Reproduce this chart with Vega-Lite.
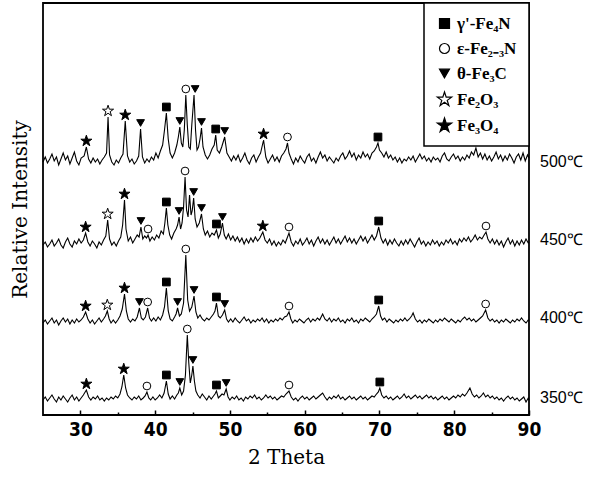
{
"$schema": "https://vega.github.io/schema/vega-lite/v6.json",
"width": 486, "height": 412,
"autosize": {"type": "none"},
"padding": {"left": 43, "top": 3, "right": 72, "bottom": 62},
"background": "white",
"config": {"view": {"stroke": "black", "strokeWidth": 1.8}, "legend": {"strokeWidth": 1.5}},
"datasets": {
"a": [{"x":25.0,"y":253},{"x":25.3,"y":258},{"x":25.6,"y":252},{"x":25.9,"y":256},{"x":26.2,"y":261},{"x":26.5,"y":254},{"x":26.8,"y":258},{"x":27.1,"y":250},{"x":27.4,"y":256},{"x":27.7,"y":262},{"x":28.0,"y":255},{"x":28.3,"y":259},{"x":28.6,"y":251},{"x":28.9,"y":257},{"x":29.2,"y":263},{"x":29.5,"y":254},{"x":29.8,"y":250},{"x":30.1,"y":257},{"x":30.5,"y":259},{"x":30.8,"y":268},{"x":31.1,"y":256},{"x":31.4,"y":252},{"x":31.7,"y":257},{"x":32.0,"y":253},{"x":32.3,"y":256},{"x":32.6,"y":251},{"x":32.9,"y":255},{"x":33.2,"y":258},{"x":33.5,"y":262},{"x":33.7,"y":298},{"x":33.9,"y":260},{"x":34.2,"y":253},{"x":34.5,"y":250},{"x":34.8,"y":255},{"x":35.1,"y":252},{"x":35.4,"y":257},{"x":35.7,"y":261},{"x":36.0,"y":294},{"x":36.3,"y":259},{"x":36.6,"y":253},{"x":36.9,"y":256},{"x":37.2,"y":251},{"x":37.5,"y":254},{"x":37.8,"y":259},{"x":38.05,"y":286},{"x":38.3,"y":258},{"x":38.6,"y":252},{"x":38.9,"y":256},{"x":39.2,"y":253},{"x":39.5,"y":258},{"x":39.8,"y":255},{"x":40.1,"y":262},{"x":40.4,"y":257},{"x":40.7,"y":264},{"x":41.0,"y":270},{"x":41.25,"y":285},{"x":41.5,"y":302},{"x":41.75,"y":276},{"x":42.0,"y":262},{"x":42.3,"y":257},{"x":42.6,"y":262},{"x":42.9,"y":270},{"x":43.1,"y":278},{"x":43.3,"y":288},{"x":43.5,"y":272},{"x":43.7,"y":268},{"x":43.9,"y":285},{"x":44.1,"y":320},{"x":44.3,"y":290},{"x":44.5,"y":268},{"x":44.7,"y":266},{"x":44.9,"y":290},{"x":45.2,"y":320},{"x":45.4,"y":285},{"x":45.6,"y":265},{"x":45.8,"y":268},{"x":46.0,"y":276},{"x":46.2,"y":287},{"x":46.4,"y":268},{"x":46.7,"y":260},{"x":47.0,"y":256},{"x":47.3,"y":260},{"x":47.6,"y":266},{"x":47.9,"y":270},{"x":48.1,"y":280},{"x":48.3,"y":265},{"x":48.6,"y":262},{"x":48.9,"y":268},{"x":49.3,"y":278},{"x":49.6,"y":262},{"x":49.9,"y":258},{"x":50.2,"y":254},{"x":50.5,"y":259},{"x":50.8,"y":255},{"x":51.1,"y":260},{"x":51.4,"y":253},{"x":51.7,"y":257},{"x":52.0,"y":262},{"x":52.3,"y":255},{"x":52.6,"y":251},{"x":52.9,"y":257},{"x":53.2,"y":260},{"x":53.5,"y":253},{"x":53.8,"y":258},{"x":54.1,"y":262},{"x":54.5,"y":275},{"x":54.8,"y":258},{"x":55.1,"y":252},{"x":55.4,"y":256},{"x":55.7,"y":260},{"x":56.0,"y":254},{"x":56.3,"y":258},{"x":56.6,"y":253},{"x":56.9,"y":259},{"x":57.2,"y":262},{"x":57.5,"y":266},{"x":57.7,"y":272},{"x":57.9,"y":262},{"x":58.2,"y":256},{"x":58.5,"y":251},{"x":58.8,"y":257},{"x":59.1,"y":253},{"x":59.4,"y":259},{"x":59.7,"y":255},{"x":60.0,"y":252},{"x":60.3,"y":258},{"x":60.6,"y":261},{"x":60.9,"y":254},{"x":61.2,"y":257},{"x":61.5,"y":252},{"x":61.8,"y":258},{"x":62.1,"y":263},{"x":62.4,"y":257},{"x":62.7,"y":260},{"x":63.0,"y":254},{"x":63.3,"y":258},{"x":63.6,"y":255},{"x":63.9,"y":252},{"x":64.2,"y":257},{"x":64.5,"y":254},{"x":64.8,"y":259},{"x":65.1,"y":262},{"x":65.4,"y":256},{"x":65.7,"y":259},{"x":66.0,"y":264},{"x":66.3,"y":258},{"x":66.6,"y":262},{"x":66.9,"y":255},{"x":67.2,"y":260},{"x":67.5,"y":257},{"x":67.8,"y":263},{"x":68.1,"y":258},{"x":68.4,"y":261},{"x":68.7,"y":256},{"x":69.0,"y":262},{"x":69.3,"y":264},{"x":69.6,"y":268},{"x":69.8,"y":272},{"x":70.0,"y":265},{"x":70.3,"y":262},{"x":70.6,"y":258},{"x":70.9,"y":263},{"x":71.2,"y":257},{"x":71.5,"y":260},{"x":71.8,"y":255},{"x":72.1,"y":258},{"x":72.4,"y":253},{"x":72.7,"y":257},{"x":73.0,"y":252},{"x":73.3,"y":256},{"x":73.6,"y":254},{"x":73.9,"y":258},{"x":74.2,"y":255},{"x":74.5,"y":259},{"x":74.8,"y":253},{"x":75.1,"y":257},{"x":75.4,"y":261},{"x":75.7,"y":256},{"x":76.0,"y":259},{"x":76.3,"y":254},{"x":76.6,"y":257},{"x":76.9,"y":253},{"x":77.2,"y":258},{"x":77.5,"y":255},{"x":77.8,"y":257},{"x":78.1,"y":253},{"x":78.4,"y":259},{"x":78.7,"y":262},{"x":79.0,"y":256},{"x":79.3,"y":254},{"x":79.6,"y":258},{"x":79.9,"y":261},{"x":80.2,"y":256},{"x":80.5,"y":259},{"x":80.8,"y":254},{"x":81.1,"y":258},{"x":81.4,"y":255},{"x":81.7,"y":260},{"x":82.0,"y":257},{"x":82.3,"y":263},{"x":82.6,"y":260},{"x":82.9,"y":267},{"x":83.2,"y":258},{"x":83.5,"y":262},{"x":83.8,"y":256},{"x":84.1,"y":261},{"x":84.4,"y":255},{"x":84.7,"y":259},{"x":85.0,"y":254},{"x":85.3,"y":258},{"x":85.6,"y":263},{"x":85.9,"y":256},{"x":86.2,"y":260},{"x":86.5,"y":254},{"x":86.8,"y":259},{"x":87.1,"y":255},{"x":87.4,"y":261},{"x":87.7,"y":257},{"x":88.0,"y":252},{"x":88.3,"y":258},{"x":88.6,"y":261},{"x":88.9,"y":255},{"x":89.2,"y":262},{"x":89.5,"y":254},{"x":89.8,"y":260},{"x":90.0,"y":257}],
"b": [{"x":25.0,"y":170},{"x":25.3,"y":173},{"x":25.6,"y":168},{"x":25.9,"y":171},{"x":26.2,"y":175},{"x":26.5,"y":169},{"x":26.8,"y":172},{"x":27.1,"y":176},{"x":27.4,"y":170},{"x":27.7,"y":167},{"x":28.0,"y":173},{"x":28.3,"y":177},{"x":28.6,"y":171},{"x":28.9,"y":168},{"x":29.2,"y":174},{"x":29.5,"y":171},{"x":29.8,"y":176},{"x":30.1,"y":172},{"x":30.4,"y":175},{"x":30.7,"y":182},{"x":31.0,"y":173},{"x":31.3,"y":169},{"x":31.6,"y":174},{"x":31.9,"y":171},{"x":32.2,"y":167},{"x":32.5,"y":173},{"x":32.8,"y":170},{"x":33.1,"y":175},{"x":33.4,"y":179},{"x":33.65,"y":195},{"x":33.9,"y":176},{"x":34.2,"y":170},{"x":34.5,"y":173},{"x":34.8,"y":169},{"x":35.1,"y":174},{"x":35.4,"y":178},{"x":35.65,"y":190},{"x":35.9,"y":215},{"x":36.1,"y":186},{"x":36.4,"y":174},{"x":36.7,"y":178},{"x":37.0,"y":172},{"x":37.3,"y":176},{"x":37.6,"y":180},{"x":37.85,"y":178},{"x":38.1,"y":188},{"x":38.35,"y":176},{"x":38.6,"y":179},{"x":38.85,"y":177},{"x":39.05,"y":180},{"x":39.3,"y":174},{"x":39.6,"y":178},{"x":39.9,"y":175},{"x":40.2,"y":180},{"x":40.5,"y":177},{"x":40.8,"y":184},{"x":41.1,"y":181},{"x":41.3,"y":192},{"x":41.5,"y":207},{"x":41.7,"y":190},{"x":41.95,"y":180},{"x":42.2,"y":176},{"x":42.5,"y":182},{"x":42.8,"y":186},{"x":43.0,"y":190},{"x":43.2,"y":198},{"x":43.4,"y":186},{"x":43.6,"y":192},{"x":43.8,"y":208},{"x":44.0,"y":238},{"x":44.2,"y":205},{"x":44.4,"y":198},{"x":44.6,"y":220},{"x":44.8,"y":200},{"x":44.95,"y":204},{"x":45.15,"y":217},{"x":45.35,"y":196},{"x":45.6,"y":188},{"x":45.9,"y":192},{"x":46.2,"y":201},{"x":46.45,"y":186},{"x":46.7,"y":180},{"x":47.0,"y":184},{"x":47.3,"y":178},{"x":47.6,"y":182},{"x":47.9,"y":180},{"x":48.2,"y":185},{"x":48.45,"y":177},{"x":48.7,"y":181},{"x":49.0,"y":192},{"x":49.25,"y":180},{"x":49.5,"y":176},{"x":49.8,"y":181},{"x":50.1,"y":175},{"x":50.4,"y":179},{"x":50.7,"y":174},{"x":51.0,"y":178},{"x":51.3,"y":173},{"x":51.6,"y":177},{"x":51.9,"y":171},{"x":52.2,"y":176},{"x":52.5,"y":172},{"x":52.8,"y":177},{"x":53.1,"y":173},{"x":53.4,"y":178},{"x":53.7,"y":174},{"x":54.0,"y":177},{"x":54.4,"y":183},{"x":54.7,"y":175},{"x":55.0,"y":172},{"x":55.3,"y":176},{"x":55.6,"y":170},{"x":55.9,"y":174},{"x":56.2,"y":169},{"x":56.5,"y":173},{"x":56.8,"y":170},{"x":57.1,"y":175},{"x":57.4,"y":172},{"x":57.9,"y":182},{"x":58.2,"y":173},{"x":58.5,"y":169},{"x":58.8,"y":174},{"x":59.1,"y":171},{"x":59.4,"y":176},{"x":59.7,"y":170},{"x":60.0,"y":173},{"x":60.3,"y":177},{"x":60.6,"y":171},{"x":60.9,"y":175},{"x":61.2,"y":169},{"x":61.5,"y":174},{"x":61.8,"y":178},{"x":62.1,"y":172},{"x":62.4,"y":176},{"x":62.7,"y":171},{"x":63.0,"y":175},{"x":63.3,"y":170},{"x":63.6,"y":174},{"x":63.9,"y":178},{"x":64.2,"y":172},{"x":64.5,"y":176},{"x":64.8,"y":171},{"x":65.1,"y":175},{"x":65.4,"y":179},{"x":65.7,"y":173},{"x":66.0,"y":177},{"x":66.3,"y":172},{"x":66.6,"y":176},{"x":66.9,"y":171},{"x":67.2,"y":175},{"x":67.5,"y":179},{"x":67.8,"y":174},{"x":68.1,"y":178},{"x":68.4,"y":172},{"x":68.7,"y":176},{"x":69.0,"y":180},{"x":69.3,"y":175},{"x":69.6,"y":179},{"x":69.9,"y":188},{"x":70.2,"y":177},{"x":70.5,"y":172},{"x":70.8,"y":176},{"x":71.1,"y":170},{"x":71.4,"y":175},{"x":71.7,"y":171},{"x":72.0,"y":176},{"x":72.3,"y":172},{"x":72.6,"y":169},{"x":72.9,"y":174},{"x":73.2,"y":170},{"x":73.5,"y":175},{"x":73.8,"y":171},{"x":74.1,"y":176},{"x":74.4,"y":172},{"x":74.7,"y":168},{"x":75.0,"y":173},{"x":75.3,"y":177},{"x":75.6,"y":171},{"x":75.9,"y":174},{"x":76.2,"y":169},{"x":76.5,"y":173},{"x":76.8,"y":170},{"x":77.1,"y":175},{"x":77.4,"y":171},{"x":77.7,"y":174},{"x":78.0,"y":169},{"x":78.3,"y":173},{"x":78.6,"y":170},{"x":78.9,"y":175},{"x":79.2,"y":172},{"x":79.5,"y":176},{"x":79.8,"y":171},{"x":80.1,"y":174},{"x":80.4,"y":170},{"x":80.7,"y":176},{"x":81.0,"y":173},{"x":81.3,"y":177},{"x":81.6,"y":174},{"x":81.9,"y":178},{"x":82.2,"y":173},{"x":82.5,"y":176},{"x":82.8,"y":180},{"x":83.1,"y":175},{"x":83.4,"y":178},{"x":83.7,"y":176},{"x":84.0,"y":180},{"x":84.25,"y":183},{"x":84.5,"y":176},{"x":84.8,"y":172},{"x":85.1,"y":176},{"x":85.4,"y":171},{"x":85.7,"y":175},{"x":86.0,"y":170},{"x":86.3,"y":174},{"x":86.6,"y":168},{"x":86.9,"y":173},{"x":87.2,"y":177},{"x":87.5,"y":171},{"x":87.8,"y":175},{"x":88.1,"y":169},{"x":88.4,"y":174},{"x":88.7,"y":170},{"x":89.0,"y":175},{"x":89.3,"y":171},{"x":89.6,"y":176},{"x":89.9,"y":172},{"x":90.0,"y":173}],
"c": [{"x":25.0,"y":92},{"x":25.3,"y":95},{"x":25.6,"y":91},{"x":25.9,"y":94},{"x":26.2,"y":97},{"x":26.5,"y":92},{"x":26.8,"y":95},{"x":27.1,"y":90},{"x":27.4,"y":94},{"x":27.7,"y":97},{"x":28.0,"y":93},{"x":28.3,"y":96},{"x":28.6,"y":91},{"x":28.9,"y":95},{"x":29.2,"y":92},{"x":29.5,"y":96},{"x":29.8,"y":93},{"x":30.1,"y":95},{"x":30.4,"y":98},{"x":30.7,"y":103},{"x":31.0,"y":96},{"x":31.3,"y":92},{"x":31.6,"y":95},{"x":31.9,"y":91},{"x":32.2,"y":94},{"x":32.5,"y":97},{"x":32.8,"y":93},{"x":33.1,"y":96},{"x":33.35,"y":99},{"x":33.6,"y":104},{"x":33.85,"y":96},{"x":34.1,"y":92},{"x":34.4,"y":95},{"x":34.7,"y":92},{"x":35.0,"y":95},{"x":35.3,"y":99},{"x":35.6,"y":106},{"x":35.9,"y":121},{"x":36.15,"y":104},{"x":36.4,"y":96},{"x":36.7,"y":93},{"x":37.0,"y":96},{"x":37.3,"y":94},{"x":37.6,"y":98},{"x":37.9,"y":107},{"x":38.15,"y":97},{"x":38.4,"y":95},{"x":38.7,"y":98},{"x":39.0,"y":107},{"x":39.25,"y":97},{"x":39.5,"y":94},{"x":39.8,"y":97},{"x":40.1,"y":94},{"x":40.4,"y":98},{"x":40.7,"y":95},{"x":41.0,"y":100},{"x":41.25,"y":108},{"x":41.5,"y":127},{"x":41.75,"y":104},{"x":42.0,"y":96},{"x":42.3,"y":94},{"x":42.6,"y":98},{"x":42.8,"y":101},{"x":43.0,"y":107},{"x":43.25,"y":99},{"x":43.5,"y":101},{"x":43.8,"y":112},{"x":44.1,"y":160},{"x":44.35,"y":115},{"x":44.6,"y":104},{"x":44.9,"y":108},{"x":45.2,"y":119},{"x":45.45,"y":103},{"x":45.7,"y":97},{"x":46.0,"y":100},{"x":46.3,"y":96},{"x":46.6,"y":94},{"x":46.9,"y":97},{"x":47.2,"y":95},{"x":47.5,"y":98},{"x":47.8,"y":101},{"x":48.0,"y":104},{"x":48.2,"y":112},{"x":48.45,"y":99},{"x":48.7,"y":97},{"x":49.0,"y":100},{"x":49.3,"y":105},{"x":49.55,"y":96},{"x":49.8,"y":93},{"x":50.1,"y":96},{"x":50.4,"y":93},{"x":50.7,"y":97},{"x":51.0,"y":94},{"x":51.3,"y":92},{"x":51.6,"y":95},{"x":51.9,"y":98},{"x":52.2,"y":94},{"x":52.5,"y":96},{"x":52.8,"y":92},{"x":53.1,"y":95},{"x":53.4,"y":93},{"x":53.7,"y":96},{"x":54.0,"y":94},{"x":54.3,"y":97},{"x":54.6,"y":93},{"x":54.9,"y":96},{"x":55.2,"y":92},{"x":55.5,"y":95},{"x":55.8,"y":93},{"x":56.1,"y":96},{"x":56.4,"y":94},{"x":56.7,"y":97},{"x":57.0,"y":95},{"x":57.3,"y":98},{"x":57.6,"y":99},{"x":57.9,"y":103},{"x":58.15,"y":96},{"x":58.4,"y":92},{"x":58.7,"y":95},{"x":59.0,"y":93},{"x":59.3,"y":96},{"x":59.6,"y":94},{"x":59.9,"y":92},{"x":60.2,"y":95},{"x":60.5,"y":97},{"x":60.8,"y":93},{"x":61.1,"y":96},{"x":61.4,"y":94},{"x":61.7,"y":97},{"x":62.0,"y":95},{"x":62.4,"y":101},{"x":62.7,"y":96},{"x":63.0,"y":94},{"x":63.3,"y":97},{"x":63.6,"y":93},{"x":63.9,"y":96},{"x":64.2,"y":94},{"x":64.5,"y":97},{"x":64.8,"y":93},{"x":65.1,"y":95},{"x":65.4,"y":92},{"x":65.7,"y":96},{"x":66.0,"y":94},{"x":66.3,"y":97},{"x":66.6,"y":93},{"x":66.9,"y":95},{"x":67.2,"y":92},{"x":67.5,"y":96},{"x":67.8,"y":94},{"x":68.1,"y":97},{"x":68.4,"y":95},{"x":68.7,"y":93},{"x":69.0,"y":96},{"x":69.3,"y":98},{"x":69.6,"y":101},{"x":69.9,"y":109},{"x":70.15,"y":99},{"x":70.4,"y":95},{"x":70.7,"y":97},{"x":71.0,"y":93},{"x":71.3,"y":96},{"x":71.6,"y":94},{"x":71.9,"y":92},{"x":72.2,"y":95},{"x":72.5,"y":93},{"x":72.8,"y":96},{"x":73.1,"y":94},{"x":73.4,"y":97},{"x":73.7,"y":94},{"x":74.0,"y":96},{"x":74.3,"y":99},{"x":74.5,"y":102},{"x":74.8,"y":96},{"x":75.1,"y":93},{"x":75.4,"y":95},{"x":75.7,"y":92},{"x":76.0,"y":95},{"x":76.3,"y":93},{"x":76.6,"y":96},{"x":76.9,"y":94},{"x":77.2,"y":92},{"x":77.5,"y":95},{"x":77.8,"y":93},{"x":78.1,"y":96},{"x":78.4,"y":94},{"x":78.7,"y":97},{"x":79.0,"y":95},{"x":79.3,"y":93},{"x":79.6,"y":96},{"x":79.9,"y":94},{"x":80.2,"y":92},{"x":80.5,"y":95},{"x":80.8,"y":93},{"x":81.1,"y":96},{"x":81.4,"y":98},{"x":81.7,"y":95},{"x":82.0,"y":97},{"x":82.3,"y":94},{"x":82.6,"y":96},{"x":82.9,"y":93},{"x":83.2,"y":95},{"x":83.5,"y":97},{"x":83.8,"y":99},{"x":84.2,"y":105},{"x":84.5,"y":97},{"x":84.8,"y":94},{"x":85.1,"y":96},{"x":85.4,"y":93},{"x":85.7,"y":95},{"x":86.0,"y":92},{"x":86.3,"y":95},{"x":86.6,"y":93},{"x":86.9,"y":96},{"x":87.2,"y":94},{"x":87.5,"y":92},{"x":87.8,"y":95},{"x":88.1,"y":93},{"x":88.4,"y":96},{"x":88.7,"y":94},{"x":89.0,"y":97},{"x":89.3,"y":94},{"x":89.6,"y":92},{"x":89.9,"y":95},{"x":90.0,"y":94}],
"d": [{"x":25.0,"y":15},{"x":25.3,"y":18},{"x":25.6,"y":14},{"x":25.9,"y":17},{"x":26.2,"y":20},{"x":26.5,"y":16},{"x":26.8,"y":13},{"x":27.1,"y":18},{"x":27.4,"y":15},{"x":27.7,"y":19},{"x":28.0,"y":16},{"x":28.3,"y":13},{"x":28.6,"y":17},{"x":28.9,"y":20},{"x":29.2,"y":15},{"x":29.5,"y":18},{"x":29.8,"y":14},{"x":30.1,"y":17},{"x":30.4,"y":20},{"x":30.8,"y":25},{"x":31.1,"y":18},{"x":31.4,"y":15},{"x":31.7,"y":18},{"x":32.0,"y":16},{"x":32.3,"y":19},{"x":32.6,"y":15},{"x":32.9,"y":17},{"x":33.2,"y":14},{"x":33.5,"y":17},{"x":33.8,"y":15},{"x":34.1,"y":18},{"x":34.4,"y":16},{"x":34.7,"y":19},{"x":35.0,"y":17},{"x":35.3,"y":21},{"x":35.55,"y":28},{"x":35.8,"y":40},{"x":36.05,"y":27},{"x":36.3,"y":20},{"x":36.6,"y":17},{"x":36.9,"y":15},{"x":37.2,"y":18},{"x":37.5,"y":16},{"x":37.8,"y":19},{"x":38.1,"y":15},{"x":38.4,"y":17},{"x":38.65,"y":19},{"x":38.9,"y":23},{"x":39.15,"y":17},{"x":39.4,"y":15},{"x":39.7,"y":18},{"x":40.0,"y":15},{"x":40.3,"y":17},{"x":40.6,"y":20},{"x":40.9,"y":17},{"x":41.2,"y":22},{"x":41.5,"y":34},{"x":41.75,"y":21},{"x":42.0,"y":16},{"x":42.3,"y":19},{"x":42.6,"y":16},{"x":42.9,"y":20},{"x":43.1,"y":22},{"x":43.3,"y":27},{"x":43.55,"y":20},{"x":43.8,"y":24},{"x":44.05,"y":40},{"x":44.3,"y":80},{"x":44.5,"y":52},{"x":44.7,"y":32},{"x":44.9,"y":40},{"x":45.05,"y":49},{"x":45.25,"y":34},{"x":45.45,"y":24},{"x":45.7,"y":20},{"x":46.0,"y":17},{"x":46.3,"y":21},{"x":46.6,"y":18},{"x":46.9,"y":15},{"x":47.2,"y":19},{"x":47.5,"y":16},{"x":47.8,"y":19},{"x":48.0,"y":21},{"x":48.2,"y":24},{"x":48.45,"y":17},{"x":48.7,"y":19},{"x":48.95,"y":21},{"x":49.2,"y":20},{"x":49.5,"y":26},{"x":49.75,"y":18},{"x":50.0,"y":15},{"x":50.3,"y":18},{"x":50.6,"y":16},{"x":50.9,"y":19},{"x":51.2,"y":15},{"x":51.5,"y":17},{"x":51.8,"y":14},{"x":52.1,"y":18},{"x":52.4,"y":16},{"x":52.7,"y":19},{"x":53.0,"y":17},{"x":53.3,"y":20},{"x":53.6,"y":16},{"x":53.9,"y":18},{"x":54.2,"y":15},{"x":54.5,"y":17},{"x":54.8,"y":20},{"x":55.1,"y":17},{"x":55.4,"y":19},{"x":55.7,"y":16},{"x":56.0,"y":18},{"x":56.3,"y":15},{"x":56.6,"y":17},{"x":56.9,"y":19},{"x":57.2,"y":18},{"x":57.5,"y":21},{"x":57.9,"y":24},{"x":58.2,"y":18},{"x":58.5,"y":15},{"x":58.8,"y":17},{"x":59.1,"y":14},{"x":59.4,"y":17},{"x":59.7,"y":19},{"x":60.0,"y":16},{"x":60.3,"y":18},{"x":60.6,"y":15},{"x":60.9,"y":17},{"x":61.2,"y":19},{"x":61.5,"y":16},{"x":61.8,"y":18},{"x":62.1,"y":20},{"x":62.4,"y":22},{"x":62.7,"y":18},{"x":63.0,"y":15},{"x":63.3,"y":18},{"x":63.6,"y":16},{"x":63.9,"y":19},{"x":64.2,"y":17},{"x":64.5,"y":20},{"x":64.8,"y":16},{"x":65.1,"y":18},{"x":65.4,"y":15},{"x":65.7,"y":17},{"x":66.0,"y":19},{"x":66.3,"y":16},{"x":66.6,"y":18},{"x":66.9,"y":15},{"x":67.2,"y":17},{"x":67.5,"y":19},{"x":67.8,"y":16},{"x":68.1,"y":18},{"x":68.4,"y":15},{"x":68.7,"y":17},{"x":69.0,"y":19},{"x":69.3,"y":18},{"x":69.6,"y":21},{"x":69.85,"y":23},{"x":70.05,"y":27},{"x":70.3,"y":20},{"x":70.6,"y":17},{"x":70.9,"y":19},{"x":71.2,"y":16},{"x":71.5,"y":18},{"x":71.8,"y":15},{"x":72.1,"y":17},{"x":72.4,"y":19},{"x":72.7,"y":16},{"x":73.0,"y":18},{"x":73.3,"y":21},{"x":73.6,"y":17},{"x":73.9,"y":19},{"x":74.2,"y":16},{"x":74.5,"y":18},{"x":74.8,"y":20},{"x":75.1,"y":17},{"x":75.4,"y":19},{"x":75.7,"y":16},{"x":76.0,"y":18},{"x":76.3,"y":20},{"x":76.6,"y":17},{"x":76.9,"y":19},{"x":77.2,"y":16},{"x":77.5,"y":18},{"x":77.8,"y":15},{"x":78.1,"y":17},{"x":78.4,"y":19},{"x":78.7,"y":16},{"x":79.0,"y":18},{"x":79.3,"y":15},{"x":79.6,"y":17},{"x":79.9,"y":19},{"x":80.2,"y":17},{"x":80.5,"y":20},{"x":80.8,"y":18},{"x":81.1,"y":21},{"x":81.4,"y":19},{"x":81.7,"y":22},{"x":82.1,"y":27},{"x":82.4,"y":21},{"x":82.7,"y":18},{"x":83.0,"y":20},{"x":83.3,"y":17},{"x":83.6,"y":19},{"x":83.9,"y":22},{"x":84.2,"y":18},{"x":84.5,"y":20},{"x":84.8,"y":17},{"x":85.1,"y":19},{"x":85.4,"y":16},{"x":85.7,"y":18},{"x":86.0,"y":15},{"x":86.3,"y":17},{"x":86.6,"y":14},{"x":86.9,"y":17},{"x":87.2,"y":19},{"x":87.5,"y":16},{"x":87.8,"y":18},{"x":88.1,"y":15},{"x":88.4,"y":17},{"x":88.7,"y":14},{"x":89.0,"y":16},{"x":89.3,"y":18},{"x":89.6,"y":13},{"x":89.9,"y":17},{"x":90.0,"y":15}],
"m": [
{"x":30.8,"y":274,"p":"Fe₃O₄"},{"x":33.7,"y":304,"p":"Fe₂O₃"},{"x":36.0,"y":300,"p":"Fe₃O₄"},{"x":38.05,"y":292,"p":"θ-Fe₃C"},{"x":41.5,"y":308,"p":"γ'-Fe₄N"},{"x":43.3,"y":294,"p":"θ-Fe₃C"},{"x":44.1,"y":326,"p":"ε-Fe₂₋₃N"},{"x":45.35,"y":326,"p":"θ-Fe₃C"},{"x":46.2,"y":293,"p":"θ-Fe₃C"},{"x":48.1,"y":286,"p":"γ'-Fe₄N"},{"x":49.3,"y":284,"p":"θ-Fe₃C"},{"x":54.5,"y":281,"p":"Fe₃O₄"},{"x":57.7,"y":278,"p":"ε-Fe₂₋₃N"},{"x":69.8,"y":278,"p":"γ'-Fe₄N"},
{"x":30.7,"y":188,"p":"Fe₃O₄"},{"x":33.65,"y":201,"p":"Fe₂O₃"},{"x":35.9,"y":221,"p":"Fe₃O₄"},{"x":38.1,"y":194,"p":"θ-Fe₃C"},{"x":39.05,"y":186,"p":"ε-Fe₂₋₃N"},{"x":41.5,"y":213,"p":"γ'-Fe₄N"},{"x":43.2,"y":204,"p":"θ-Fe₃C"},{"x":44.0,"y":244,"p":"ε-Fe₂₋₃N"},{"x":45.15,"y":223,"p":"θ-Fe₃C"},{"x":46.2,"y":207,"p":"θ-Fe₃C"},{"x":48.2,"y":191,"p":"γ'-Fe₄N"},{"x":49.0,"y":198,"p":"θ-Fe₃C"},{"x":54.4,"y":189,"p":"Fe₃O₄"},{"x":57.9,"y":188,"p":"ε-Fe₂₋₃N"},{"x":69.9,"y":194,"p":"γ'-Fe₄N"},{"x":84.25,"y":189,"p":"ε-Fe₂₋₃N"},
{"x":30.7,"y":109,"p":"Fe₃O₄"},{"x":33.6,"y":110,"p":"Fe₂O₃"},{"x":35.9,"y":127,"p":"Fe₃O₄"},{"x":37.9,"y":113,"p":"θ-Fe₃C"},{"x":39.0,"y":113,"p":"ε-Fe₂₋₃N"},{"x":41.5,"y":133,"p":"γ'-Fe₄N"},{"x":43.0,"y":113,"p":"θ-Fe₃C"},{"x":44.1,"y":166,"p":"ε-Fe₂₋₃N"},{"x":45.2,"y":125,"p":"θ-Fe₃C"},{"x":48.2,"y":118,"p":"γ'-Fe₄N"},{"x":49.3,"y":111,"p":"θ-Fe₃C"},{"x":57.9,"y":109,"p":"ε-Fe₂₋₃N"},{"x":69.9,"y":115,"p":"γ'-Fe₄N"},{"x":84.2,"y":111,"p":"ε-Fe₂₋₃N"},
{"x":30.8,"y":31,"p":"Fe₃O₄"},{"x":35.8,"y":46,"p":"Fe₃O₄"},{"x":38.9,"y":29,"p":"ε-Fe₂₋₃N"},{"x":41.5,"y":40,"p":"γ'-Fe₄N"},{"x":43.3,"y":33,"p":"θ-Fe₃C"},{"x":44.3,"y":86,"p":"ε-Fe₂₋₃N"},{"x":45.05,"y":55,"p":"θ-Fe₃C"},{"x":48.2,"y":30,"p":"γ'-Fe₄N"},{"x":49.5,"y":32,"p":"θ-Fe₃C"},{"x":57.9,"y":30,"p":"ε-Fe₂₋₃N"},{"x":70.05,"y":33,"p":"γ'-Fe₄N"}
],
"l": [{"x":90,"y":253,"t":"500℃"},{"x":90,"y":175,"t":"450℃"},{"x":90,"y":97,"t":"400℃"},{"x":90,"y":17,"t":"350℃"}]
},
"encoding": {
  "x": {"field": "x", "type": "quantitative",
        "scale": {"domain": [25, 90], "nice": false, "zero": false},
        "axis": {"title": "2 Theta", "titleFont": "DejaVu Serif", "titleFontSize": 20, "titleFontWeight": "normal", "titleColor": "black", "titlePadding": 6,
                 "values": [30,35,40,45,50,55,60,65,70,75,80,85,90],
                 "labelExpr": "datum.value % 10 == 0 ? datum.label : ''",
                 "labelFont": "Liberation Sans Narrow, DejaVu Sans Condensed, Liberation Sans", "labelFontSize": 19, "labelFontWeight": "bold", "labelColor": "black",
                 "labelFlush": false, "labelOverlap": false, "labelPadding": 10,
                 "tickColor": "black", "tickWidth": 1.5,
                 "tickSize": {"condition": {"test": "datum.value % 10 == 0", "value": -5}, "value": -3},
                 "domain": false, "grid": false}},
  "y": {"field": "y", "type": "quantitative",
        "scale": {"domain": [0, 412], "nice": false, "zero": false},
        "axis": {"title": "Relative Intensity", "titleFont": "DejaVu Serif", "titleFontSize": 20, "titleFontWeight": "normal", "titleColor": "black", "titlePadding": 13,
                 "labels": false, "ticks": false, "domain": false, "grid": false}}
},
"layer": [
  {"data": {"name": "a"}, "mark": {"type": "line", "color": "black", "strokeWidth": 1.1}},
  {"data": {"name": "b"}, "mark": {"type": "line", "color": "black", "strokeWidth": 1.1}},
  {"data": {"name": "c"}, "mark": {"type": "line", "color": "black", "strokeWidth": 1.1}},
  {"data": {"name": "d"}, "mark": {"type": "line", "color": "black", "strokeWidth": 1.1}},
  {"data": {"name": "m"},
   "mark": {"type": "point", "filled": true, "stroke": "black", "strokeWidth": 1, "size": 60, "opacity": 1},
   "encoding": {
     "shape": {"field": "p", "type": "nominal",
               "scale": {"domain": ["γ'-Fe₄N", "ε-Fe₂₋₃N", "θ-Fe₃C", "Fe₂O₃", "Fe₃O₄"],
                         "range": ["square", "circle", "triangle-down",
                                   "M0,-1.5L0.337,-0.464L1.427,-0.464L0.545,0.177L0.882,1.214L0,0.573L-0.882,1.214L-0.545,0.177L-1.427,-0.464L-0.337,-0.464Z",
                                   "M0,-1.5L0.337,-0.464L1.427,-0.464L0.545,0.177L0.882,1.214L0,0.573L-0.882,1.214L-0.545,0.177L-1.427,-0.464L-0.337,-0.464Z"]},
               "legend": {"title": null, "orient": "top-right", "offset": 0, "strokeColor": "black", "fillColor": "white",
                          "padding": 12, "rowPadding": 7, "symbolSize": 100, "symbolStrokeColor": "black", "symbolStrokeWidth": 1, "symbolOpacity": 1,
                          "labelFont": "Liberation Serif", "labelFontSize": 17, "labelFontWeight": "bold", "labelColor": "black", "labelOffset": 4, "labelLimit": 300,
                          "encode": {"symbols": {"update": {"stroke": {"value": "black"}, "strokeWidth": {"value": 1.2}, "opacity": {"value": 1}}}}}},
     "fill": {"field": "p", "type": "nominal",
              "scale": {"domain": ["γ'-Fe₄N", "ε-Fe₂₋₃N", "θ-Fe₃C", "Fe₂O₃", "Fe₃O₄"],
                        "range": ["black", "white", "black", "white", "black"]},
              "legend": {"title": null, "orient": "top-right", "offset": 0, "strokeColor": "black", "fillColor": "white",
                          "padding": 12, "rowPadding": 7, "symbolSize": 100, "symbolStrokeColor": "black", "symbolStrokeWidth": 1, "symbolOpacity": 1,
                          "labelFont": "Liberation Serif", "labelFontSize": 17, "labelFontWeight": "bold", "labelColor": "black", "labelOffset": 4, "labelLimit": 300,
                          "encode": {"symbols": {"update": {"stroke": {"value": "black"}, "strokeWidth": {"value": 1.2}, "opacity": {"value": 1}}}}}}
   }},
  {"data": {"name": "l"},
   "mark": {"type": "text", "align": "left", "baseline": "middle", "dx": 11, "font": "Liberation Sans", "fontSize": 16, "color": "black"},
   "encoding": {"text": {"field": "t", "type": "nominal"}}}
]
}
